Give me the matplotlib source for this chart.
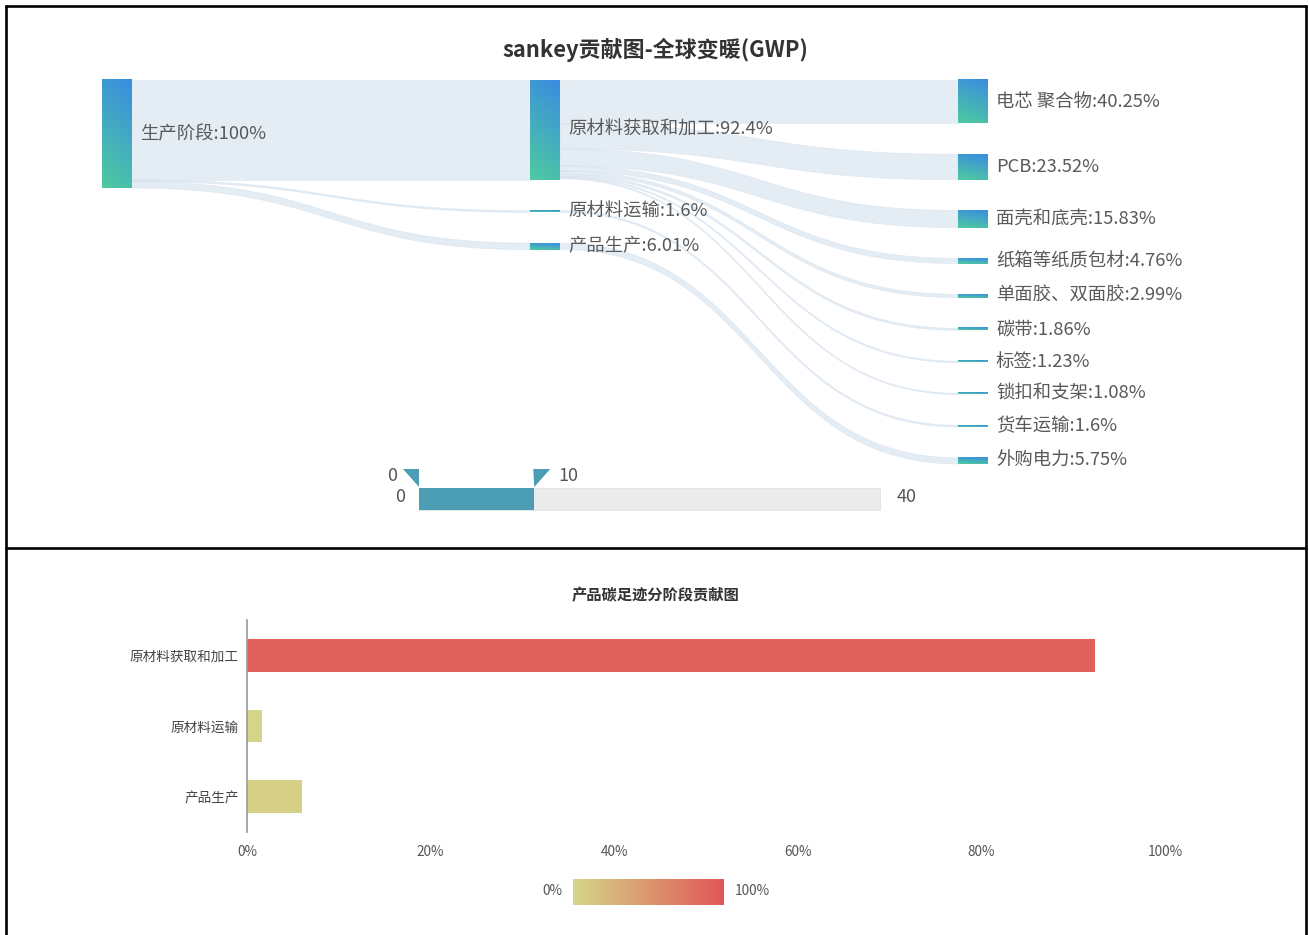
import matplotlib
matplotlib.use('Agg')
import matplotlib.pyplot as plt
import numpy as np
from matplotlib.colors import LinearSegmentedColormap
from matplotlib.patches import Polygon, Rectangle

plt.rcParams['font.family'] = ['Noto Sans CJK SC', 'DejaVu Sans']

# ---- 数据 ----
stage_name = '生产阶段'
stage_value = 100
mid_names = ['原材料获取和加工', '原材料运输', '产品生产']
mid_values = [92.4, 1.6, 6.01]
right_names = ['电芯 聚合物', 'PCB', '面壳和底壳', '纸箱等纸质包材', '单面胶、双面胶',
               '碳带', '标签', '锁扣和支架', '货车运输', '外购电力']
right_values = [40.25, 23.52, 15.83, 4.76, 2.99, 1.86, 1.23, 1.08, 1.6, 5.75]
right_source = [0, 0, 0, 0, 0, 0, 0, 0, 1, 2]   # 指向 mid_names 的下标

slider_range = [0, 40]
slider_handles = [0, 10]

bar_names = ['原材料获取和加工', '原材料运输', '产品生产']
bar_values = [92.4, 1.6, 6.01]
bar_ticks = [0, 20, 40, 60, 80, 100]

W, H = 1309, 935
fig = plt.figure(figsize=(W / 100, H / 100), dpi=100)
canvas = fig.add_axes([0, 0, 1, 1])

# 表格边框
lk = dict(color='black', lw=1.9, solid_capstyle='butt')
canvas.plot([5.5, 5.5], [4.5, 935], **lk)
canvas.plot([1306, 1306], [4.5, 935], **lk)
canvas.plot([4.5, 1307], [5.5, 5.5], **lk)
canvas.plot([4.5, 1307], [548, 548], **lk)

# ---- 桑基图布局 ----
top, area_h, gap = 80, 384, 30.8
node_w = 30
col_x = [102, 530, 958]
ky = (area_h - (len(right_values) - 1) * gap) / sum(right_values)

def stack(values):
    pos, y = [], top
    for v in values:
        h = v * ky
        pos.append((y, y + h))
        y += h + gap
    return pos

left_pos = stack([stage_value])
mid_pos = stack(mid_values)
right_pos = stack(right_values)

node_cmap = LinearSegmentedColormap.from_list('node', ['#3a8ce0', '#4ecba0'])
link_color = '#d3e0ee'


def draw_node(x, y0, y1):
    u = np.linspace(0, 1, 20)[None, :]
    v = np.linspace(0, 1, 60)[:, None]
    grad = 0.8 * v + 0.2 * (1 - u)
    canvas.imshow(grad, cmap=node_cmap, extent=(x, x + node_w, y1, y0),
                  aspect='auto', origin='upper', vmin=0, vmax=1, zorder=3)


def ribbon(x0, a0, b0, x1, a1, b1):
    t = np.linspace(0, 1, 80)
    xm = (x0 + x1) / 2
    bx = (1 - t) ** 3 * x0 + 3 * (1 - t) ** 2 * t * xm + 3 * (1 - t) * t ** 2 * xm + t ** 3 * x1
    def by(p, q):
        return (1 - t) ** 3 * p + 3 * (1 - t) ** 2 * t * p + 3 * (1 - t) * t ** 2 * q + t ** 3 * q
    pts = np.vstack([np.column_stack([bx, by(a0, a1)]),
                     np.column_stack([bx[::-1], by(b0, b1)[::-1]])])
    canvas.add_patch(Polygon(pts, closed=True, facecolor=link_color, edgecolor=link_color,
                             lw=0.5, alpha=0.6, zorder=1))


# 生产阶段 -> 中间节点
y = left_pos[0][0]
for (m0, m1), v in zip(mid_pos, mid_values):
    h = v * ky
    ribbon(col_x[0] + node_w, y, y + h, col_x[1], m0, m1)
    y += h

# 中间节点 -> 右侧节点
offs = [p[0] for p in mid_pos]
for (r0, r1), v, s in zip(right_pos, right_values, right_source):
    h = v * ky
    ribbon(col_x[1] + node_w, offs[s], offs[s] + h, col_x[2], r0, r1)
    offs[s] += h

lab = dict(fontsize=13.2, color='#595959', va='center', ha='left', zorder=4)
for (y0, y1) in left_pos:
    draw_node(col_x[0], y0, y1)
    canvas.text(col_x[0] + node_w + 8, (y0 + y1) / 2, f'{stage_name}:{stage_value:g}%', **lab)
for (y0, y1), n, v in zip(mid_pos, mid_names, mid_values):
    draw_node(col_x[1], y0, y1)
    canvas.text(col_x[1] + node_w + 8, (y0 + y1) / 2, f'{n}:{v:g}%', **lab)
for (y0, y1), n, v in zip(right_pos, right_names, right_values):
    draw_node(col_x[2], y0, y1)
    canvas.text(col_x[2] + node_w + 8, (y0 + y1) / 2, f'{n}:{v:g}%', **lab)

canvas.text(655, 50, 'sankey贡献图-全球变暖(GWP)', fontsize=15.8, fontweight='bold',
            color='#333333', ha='center', va='center')

# ---- 滑块（visualMap）----
sx0, sx1, sy0, sy1 = 419, 880, 488, 510

def sx(v):
    return sx0 + (v - slider_range[0]) / (slider_range[1] - slider_range[0]) * (sx1 - sx0)

canvas.add_patch(Rectangle((sx0, sy0), sx1 - sx0, sy1 - sy0, facecolor='#ebebeb',
                           edgecolor='#e2e2e2', lw=0.6, zorder=2))
canvas.add_patch(Rectangle((sx(slider_handles[0]), sy0), sx(slider_handles[1]) - sx(slider_handles[0]),
                           sy1 - sy0, facecolor='#4b9db4', edgecolor='none', zorder=3))
hl, hr = sx(slider_handles[0]), sx(slider_handles[1])
canvas.add_patch(Polygon([[hl - 16, 469], [hl, 469], [hl, 487]], facecolor='#4b9db4', zorder=3))
canvas.add_patch(Polygon([[hr - 1, 469], [hr + 16, 469], [hr, 487]], facecolor='#4b9db4', zorder=3))
sl = dict(fontsize=13, color='#555555', va='center', zorder=4)
canvas.text(hl - 22, 476, f'{slider_handles[0]}', ha='right', **sl)
canvas.text(hr + 24, 476, f'{slider_handles[1]}', ha='left', **sl)
canvas.text(sx0 - 14, 497, f'{slider_range[0]}', ha='right', **sl)
canvas.text(sx1 + 17, 497, f'{slider_range[1]}', ha='left', **sl)

canvas.set_xlim(0, W)
canvas.set_ylim(H, 0)
canvas.axis('off')

# ---- 下方条形图 ----
bar_cmap = LinearSegmentedColormap.from_list('bar', ['#d5d689', '#e15757'])

def fig_rect(x0, y0, x1, y1):
    return [x0 / W, 1 - y1 / H, (x1 - x0) / W, (y1 - y0) / H]

ax = fig.add_axes(fig_rect(247, 620, 1165, 832))
ypos = np.arange(len(bar_names))
ax.barh(ypos, bar_values, height=0.46, color=[bar_cmap(v / 100) for v in bar_values])
ax.set_xlim(0, 100)
ax.set_ylim(len(bar_names) - 0.5, -0.5)
ax.set_yticks(ypos)
ax.set_yticklabels(bar_names, fontsize=9.8, color='#444444')
ax.set_xticks(bar_ticks)
ax.set_xticklabels([f'{t}%' for t in bar_ticks], fontsize=9.8, color='#555555')
ax.tick_params(axis='y', length=0, pad=6)
ax.tick_params(axis='x', length=0, pad=9)
for s in ['top', 'right', 'bottom']:
    ax.spines[s].set_visible(False)
ax.spines['left'].set_color('#999999')
ax.spines['left'].set_linewidth(1.2)
ax.patch.set_alpha(0)

fig.text(655 / W, 1 - 595 / H, '产品碳足迹分阶段贡献图', fontsize=11, fontweight='bold',
         color='#333333', ha='center', va='center')

# 颜色条
cax = fig.add_axes(fig_rect(573, 879, 724, 905))
cax.imshow(np.linspace(0, 1, 256)[None, :], cmap=bar_cmap, aspect='auto')
cax.axis('off')
fig.text(562 / W, 1 - 891 / H, '0%', fontsize=9.8, color='#555555', ha='right', va='center')
fig.text(735 / W, 1 - 891 / H, '100%', fontsize=9.8, color='#555555', ha='left', va='center')

fig.savefig('out.png', dpi=100)
